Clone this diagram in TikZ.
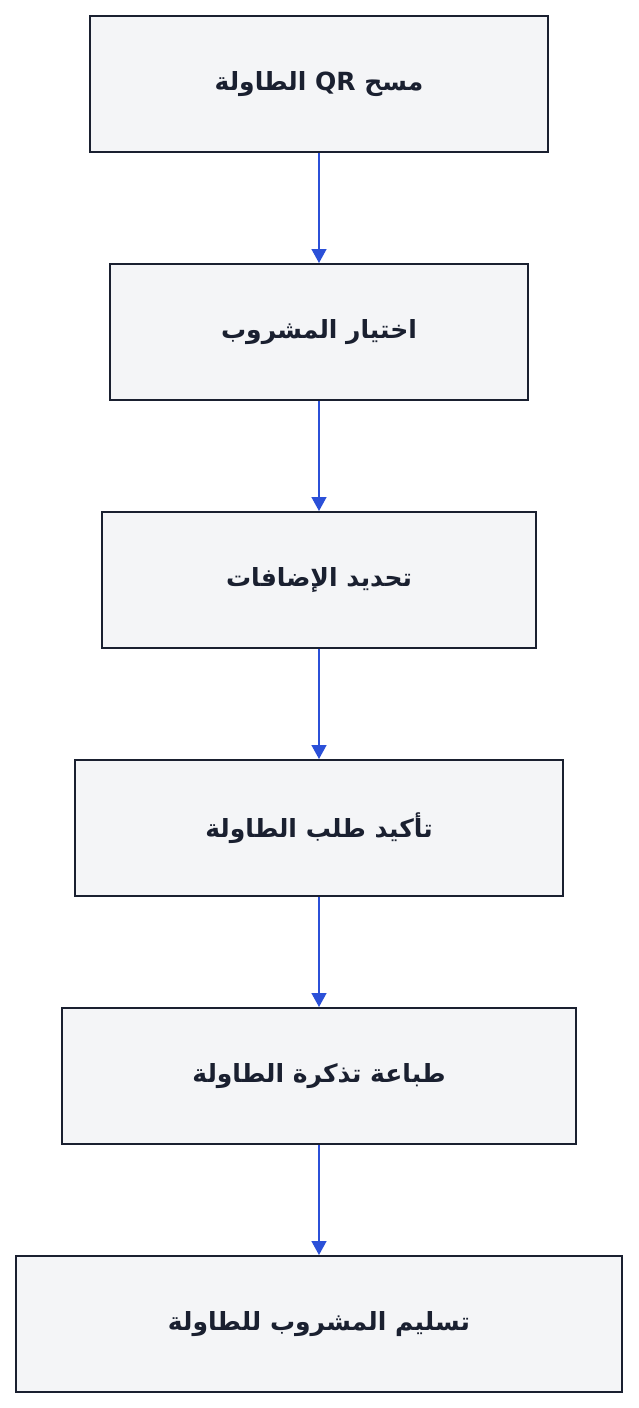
\documentclass[tikz,border=0pt]{standalone}
\usepackage{fontspec}
\usetikzlibrary{arrows.meta}
\TeXXeTstate=1
\newfontfamily\arabicfont[Script=Arabic]{DejaVu Sans}
\definecolor{boxfill}{HTML}{F4F5F7}
\definecolor{boxline}{HTML}{1A2030}
\definecolor{flowblue}{HTML}{2B50D8}
\tikzset{
  stepbox/.style={draw=boxline, fill=boxfill, line width=2pt, minimum height=136pt,
    inner sep=0pt, font=\arabicfont\bfseries\fontsize{25}{30}\selectfont, text=boxline},
  flow/.style={draw=flowblue, line width=1.5pt, -{Triangle[width=15pt,length=14pt]}}
}
\begin{document}
\begin{tikzpicture}[x=1pt,y=-1pt]
    \useasboundingbox (0,0) rectangle (638,1408);
    \node[stepbox, minimum width=458pt] (scan) at (319,84) {\beginR مسح \beginL QR\endL{} الطاولة\endR};
    \node[stepbox, minimum width=418pt] (drink) at (319,332) {\beginR اختيار المشروب\endR};
    \node[stepbox, minimum width=434pt] (extras) at (319,580) {\beginR تحديد الإضافات\endR};
    \node[stepbox, minimum width=488pt] (confirm) at (319,828) {\beginR تأكيد طلب الطاولة\endR};
    \node[stepbox, minimum width=514pt] (ticket) at (319,1076) {\beginR طباعة تذكرة الطاولة\endR};
    \node[stepbox, minimum width=606pt] (deliver) at (319,1324) {\beginR تسليم المشروب للطاولة\endR};
    \draw[flow] (scan) -- (drink);
    \draw[flow] (drink) -- (extras);
    \draw[flow] (extras) -- (confirm);
    \draw[flow] (confirm) -- (ticket);
    \draw[flow] (ticket) -- (deliver);
\end{tikzpicture}
\end{document}
